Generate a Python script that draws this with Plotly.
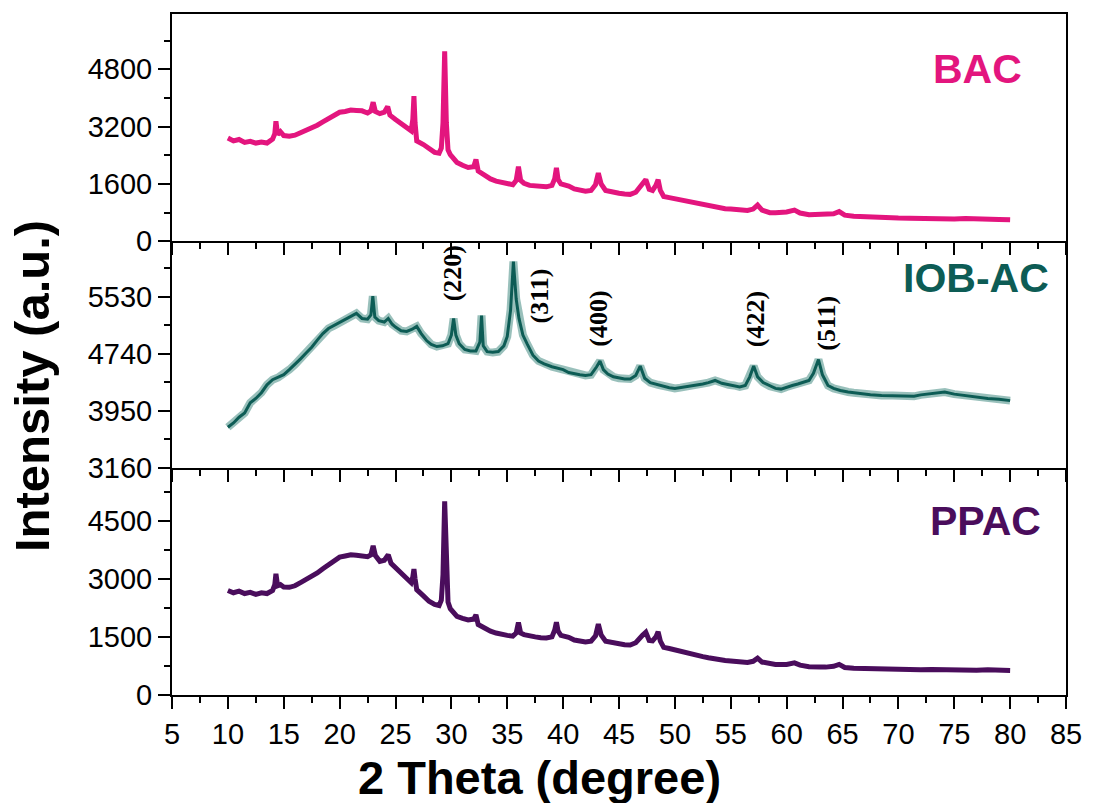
import plotly.graph_objects as go

# ---------------- data (2theta, intensity) ----------------
bac_points = [
    (10.0, 2880), (10.5, 2800), (11.0, 2840), (11.5, 2760), (12.0, 2790), (12.5, 2740),
    (13.0, 2770), (13.5, 2740), (14.0, 2850), (14.2, 3000), (14.3, 3350), (14.45, 2980),
    (14.7, 3060), (15.0, 2950), (15.5, 2930), (16.0, 2960), (16.5, 3030), (17.0, 3090),
    (17.5, 3160), (18.0, 3240), (18.5, 3330), (19.0, 3420), (19.5, 3530), (20.0, 3600),
    (20.5, 3620), (21.0, 3660), (21.5, 3650), (22.0, 3640), (22.5, 3580), (22.8, 3640),
    (23.0, 3880), (23.2, 3620), (23.6, 3560), (24.0, 3600), (24.3, 3760), (24.5, 3520),
    (25.0, 3400), (25.5, 3290), (26.0, 3170), (26.4, 3080), (26.55, 3400), (26.65, 4050),
    (26.75, 3300), (26.9, 2800), (27.5, 2700), (28.0, 2580), (28.5, 2480), (28.9, 2460),
    (29.1, 2600), (29.25, 3300), (29.4, 5300), (29.55, 3300), (29.7, 2550), (29.9, 2420),
    (30.5, 2200), (31.0, 2120), (31.5, 2060), (32.0, 2080), (32.2, 2280), (32.4, 1960),
    (33.0, 1820), (33.5, 1740), (34.0, 1680), (34.5, 1640), (35.0, 1600), (35.5, 1580),
    (35.8, 1700), (36.0, 2080), (36.2, 1700), (36.5, 1620), (37.0, 1560), (37.5, 1540),
    (38.0, 1530), (38.5, 1520), (39.0, 1560), (39.25, 1750), (39.4, 2050), (39.55, 1720),
    (39.8, 1600), (40.5, 1540), (41.0, 1460), (41.5, 1420), (42.0, 1400), (42.5, 1420),
    (42.9, 1580), (43.15, 1900), (43.4, 1600), (43.8, 1420), (44.5, 1360), (45.0, 1340),
    (45.5, 1320), (46.0, 1310), (46.5, 1370), (47.1, 1620), (47.4, 1720), (47.7, 1450),
    (48.0, 1420), (48.3, 1560), (48.5, 1720), (48.7, 1420), (49.0, 1250), (49.5, 1220),
    (50.0, 1190), (50.5, 1150), (51.0, 1110), (51.5, 1070), (52.0, 1040), (52.5, 1010),
    (53.0, 990), (53.5, 960), (54.0, 940), (54.5, 910), (55.0, 900), (55.5, 880),
    (56.0, 870), (56.5, 860), (57.0, 900), (57.4, 1010), (57.8, 870), (58.5, 800),
    (59.0, 800), (59.5, 810), (60.0, 820), (60.7, 870), (61.2, 790), (62.0, 740),
    (62.5, 750), (63.0, 730), (63.5, 740), (64.2, 770), (64.7, 830), (65.2, 730),
    (66.0, 700), (67.0, 680), (68.0, 670), (69.0, 660), (70.0, 650), (71.0, 645),
    (72.0, 635), (73.0, 650), (74.0, 630), (75.0, 625), (76.0, 640), (77.0, 620),
    (78.0, 630), (79.0, 610), (80.0, 600),
]

iob_points = [
    (10.0, 3720), (10.5, 3780), (11.0, 3860), (11.5, 3920), (12.0, 4060), (12.5, 4120),
    (13.0, 4200), (13.5, 4310), (14.0, 4380), (14.5, 4410), (15.0, 4450), (15.5, 4520),
    (16.0, 4590), (16.5, 4670), (17.0, 4750), (17.5, 4830), (18.0, 4930), (18.5, 5020),
    (19.0, 5090), (19.5, 5130), (20.0, 5170), (20.5, 5210), (21.0, 5260), (21.5, 5300),
    (22.0, 5230), (22.5, 5220), (22.8, 5280), (22.97, 5540), (23.15, 5250), (23.5, 5200),
    (24.0, 5180), (24.35, 5230), (24.7, 5150), (25.0, 5110), (25.5, 5060), (26.0, 5050),
    (26.5, 5080), (26.9, 5120), (27.3, 5020), (27.8, 4920), (28.2, 4870), (28.7, 4840),
    (29.2, 4850), (29.7, 4880), (30.0, 5000), (30.2, 5230), (30.4, 5000), (30.7, 4880),
    (31.2, 4800), (31.7, 4780), (32.2, 4780), (32.55, 4900), (32.7, 5270), (32.85, 4850),
    (33.2, 4770), (33.7, 4760), (34.2, 4770), (34.7, 4850), (35.0, 4980), (35.3, 5350),
    (35.55, 6020), (35.8, 5500), (36.05, 5230), (36.4, 5000), (36.8, 4870), (37.3, 4720),
    (37.8, 4640), (38.3, 4600), (39.0, 4560), (39.5, 4540), (40.0, 4520), (40.5, 4480),
    (41.0, 4460), (41.5, 4450), (42.0, 4440), (42.5, 4450), (43.0, 4560), (43.3, 4640),
    (43.6, 4520), (44.0, 4460), (44.5, 4420), (45.0, 4400), (45.5, 4390), (46.0, 4390),
    (46.5, 4440), (46.9, 4570), (47.3, 4400), (47.8, 4340), (48.5, 4310), (49.0, 4290),
    (49.5, 4270), (50.0, 4260), (50.5, 4270), (51.0, 4280), (51.5, 4290), (52.0, 4300),
    (52.5, 4320), (53.0, 4340), (53.6, 4370), (54.2, 4330), (54.8, 4310), (55.3, 4300),
    (55.8, 4280), (56.3, 4300), (56.7, 4420), (57.05, 4570), (57.4, 4420), (57.9, 4340),
    (58.5, 4290), (59.0, 4260), (59.5, 4250), (60.0, 4280), (60.5, 4300), (61.0, 4320),
    (61.5, 4340), (62.0, 4370), (62.4, 4470), (62.85, 4660), (63.2, 4450), (63.7, 4300),
    (64.2, 4260), (64.8, 4230), (65.5, 4210), (66.0, 4200), (66.8, 4180), (67.5, 4170),
    (68.5, 4160), (69.5, 4160), (70.5, 4150), (71.4, 4150), (72.0, 4170), (73.0, 4190),
    (74.15, 4210), (75.0, 4180), (76.0, 4160), (77.0, 4130), (78.0, 4120), (79.0, 4110),
    (80.0, 4090),
]

ppac_points = [
    (10.0, 2700), (10.5, 2640), (11.0, 2680), (11.5, 2620), (12.0, 2650), (12.5, 2600),
    (13.0, 2640), (13.5, 2620), (14.0, 2700), (14.2, 2850), (14.3, 3130), (14.45, 2820),
    (14.7, 2850), (15.0, 2790), (15.5, 2780), (16.0, 2820), (16.5, 2900), (17.0, 2980),
    (17.5, 3060), (18.0, 3150), (18.5, 3260), (19.0, 3370), (19.5, 3480), (20.0, 3560),
    (20.5, 3590), (21.0, 3620), (21.5, 3610), (22.0, 3600), (22.5, 3570), (22.8, 3620),
    (23.0, 3850), (23.2, 3600), (23.6, 3450), (24.0, 3480), (24.35, 3620), (24.6, 3400),
    (25.0, 3290), (25.5, 3160), (26.0, 3000), (26.4, 2900), (26.55, 3050), (26.65, 3250),
    (26.75, 3000), (26.9, 2720), (27.5, 2560), (28.0, 2420), (28.5, 2340), (28.9, 2310),
    (29.1, 2450), (29.25, 3100), (29.4, 5000), (29.55, 3100), (29.7, 2400), (29.9, 2230),
    (30.5, 2030), (31.0, 1980), (31.5, 1940), (32.0, 1960), (32.2, 2070), (32.4, 1820),
    (33.0, 1720), (33.5, 1650), (34.0, 1600), (34.5, 1560), (35.0, 1540), (35.5, 1520),
    (35.8, 1600), (36.0, 1870), (36.2, 1600), (36.5, 1560), (37.0, 1520), (37.5, 1500),
    (38.0, 1480), (38.5, 1470), (39.0, 1500), (39.25, 1680), (39.4, 1880), (39.55, 1650),
    (39.8, 1540), (40.5, 1490), (41.0, 1420), (41.5, 1390), (42.0, 1370), (42.5, 1390),
    (42.9, 1530), (43.15, 1830), (43.4, 1550), (43.8, 1390), (44.5, 1340), (45.0, 1320),
    (45.5, 1300), (46.0, 1290), (46.5, 1350), (47.1, 1540), (47.4, 1620), (47.7, 1410),
    (48.0, 1400), (48.3, 1500), (48.5, 1630), (48.7, 1390), (49.0, 1230), (49.5, 1200),
    (50.0, 1160), (50.5, 1120), (51.0, 1090), (51.5, 1050), (52.0, 1020), (52.5, 990),
    (53.0, 960), (53.5, 930), (54.0, 910), (54.5, 890), (55.0, 880), (55.5, 860),
    (56.0, 850), (56.5, 840), (57.0, 870), (57.4, 950), (57.8, 850), (58.5, 800),
    (59.0, 790), (59.5, 790), (60.0, 790), (60.7, 830), (61.2, 770), (62.0, 730),
    (62.5, 740), (63.0, 720), (63.5, 720), (64.2, 740), (64.7, 790), (65.2, 710),
    (66.0, 690), (67.0, 680), (68.0, 670), (69.0, 665), (70.0, 660), (71.0, 655),
    (72.0, 650), (73.0, 660), (74.0, 650), (75.0, 640), (76.0, 650), (77.0, 640),
    (78.0, 650), (79.0, 635), (80.0, 630),
]

hkl_labels = ["(220)", "(311)", "(400)", "(422)", "(511)"]
hkl_x = [30.1, 37.9, 43.2, 57.2, 63.6]
hkl_y = [5863, 5544, 5225, 5225, 5170]

sample_names = ["BAC", "IOB-AC", "PPAC"]
colors = ["#E3157E", "#0D5C55", "#4A0D5C"]

# ---------------- figure ----------------
def unzip(pts):
    return [p[0] for p in pts], [p[1] for p in pts]

bx, by = unzip(bac_points)
ix, iy = unzip(iob_points)
px_, py_ = unzip(ppac_points)

fig = go.Figure()
# top panel: BAC (x3/y3)
fig.add_trace(go.Scatter(x=bx, y=by, mode="lines", line=dict(color=colors[0], width=5),
                         xaxis="x3", yaxis="y3", showlegend=False))
# middle: IOB-AC (x2/y2) with light fuzz
fig.add_trace(go.Scatter(x=ix, y=iy, mode="lines", line=dict(color="rgba(70,140,132,0.55)", width=8),
                         xaxis="x2", yaxis="y2", showlegend=False))
fig.add_trace(go.Scatter(x=ix, y=iy, mode="lines", line=dict(color=colors[1], width=3),
                         xaxis="x2", yaxis="y2", showlegend=False))
# bottom: PPAC (x/y)
fig.add_trace(go.Scatter(x=px_, y=py_, mode="lines", line=dict(color=colors[2], width=5),
                         xaxis="x", yaxis="y", showlegend=False))

tickfont = dict(family="Liberation Sans, Arial, sans-serif", size=29, color="black")
d1 = 228 / 683
d2 = 455 / 683

def xax(show_labels, anchor, mirror=False):
    return dict(range=[5, 85], tick0=5, dtick=5, showticklabels=show_labels,
                ticks="outside", ticklen=12, tickwidth=2, tickcolor="black",
                minor=dict(dtick=2.5, tick0=5, ticks="outside", ticklen=6, tickwidth=2, tickcolor="black"),
                showline=True, linecolor="black", linewidth=2, mirror=mirror,
                showgrid=False, zeroline=False, tickfont=tickfont, anchor=anchor)

def yax(rng, t0, dt, dom, anchor):
    return dict(range=rng, tick0=t0, dtick=dt, domain=dom,
                ticks="outside", ticklen=12, tickwidth=2, tickcolor="black",
                minor=dict(dtick=dt / 2, tick0=t0, ticks="outside", ticklen=6, tickwidth=2, tickcolor="black"),
                showline=True, linecolor="black", linewidth=2, mirror=True,
                showgrid=False, zeroline=False, tickfont=tickfont, anchor=anchor)

fig.update_layout(
    width=1094, height=803,
    margin=dict(l=172, r=21, t=12, b=108),
    paper_bgcolor="white", plot_bgcolor="white",
    xaxis=xax(True, "y"),
    xaxis2=xax(False, "y2"),
    xaxis3=xax(False, "y3", mirror=True),
    yaxis=yax([0, 5870], 0, 1500, [0, d1], "x"),
    yaxis2=yax([3160, 6300], 3160, 790, [d1, d2], "x2"),
    yaxis3=yax([0, 6340], 0, 1600, [d2, 1], "x3"),
)

annotations = []
annotations.append(dict(text="<b>2 Theta (degree)</b>", xref="paper", yref="paper",
                        x=(542 - 172) / 901, y=(695 - 778) / 683, showarrow=False,
                        font=dict(family="Liberation Sans, Arial, sans-serif", size=47, color="black"),
                        xanchor="center", yanchor="middle"))
annotations.append(dict(text="<b>Intensity (a.u.)</b>", xref="paper", yref="paper",
                        x=(31 - 172) / 901, y=(695 - 385) / 683, showarrow=False,
                        font=dict(family="Liberation Sans, Arial, sans-serif", size=49, color="black"),
                        textangle=-90, xanchor="center", yanchor="middle"))
name_pos = [(984, 67), (982, 277), (992, 520)]
for name, col, (nx, ny) in zip(sample_names, colors, name_pos):
    annotations.append(dict(text="<b>%s</b>" % name, xref="paper", yref="paper",
                            x=(nx - 172) / 901, y=(695 - ny) / 683, showarrow=False,
                            font=dict(family="Liberation Sans, Arial, sans-serif", size=41, color=col),
                            xanchor="center", yanchor="middle"))
for lab, hx, hy in zip(hkl_labels, hkl_x, hkl_y):
    annotations.append(dict(text="<b>%s</b>" % lab, xref="x2", yref="y2", x=hx, y=hy,
                            showarrow=False, textangle=-90,
                            font=dict(family="Liberation Serif, Times New Roman, serif", size=26, color="black"),
                            xanchor="center", yanchor="middle"))
fig.update_layout(annotations=annotations)

fig.write_html("out.html")
